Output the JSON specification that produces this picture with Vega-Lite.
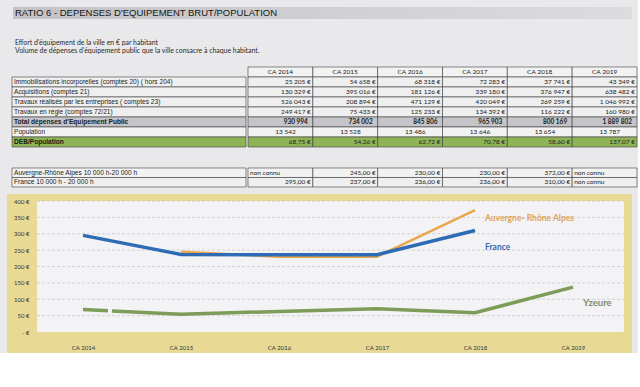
{
  "$schema": "https://vega.github.io/schema/vega-lite/v6.json",
  "background": "#e9e9eb",
  "padding": {"left": 7, "top": 7, "right": 0, "bottom": 0},
  "spacing": 0,
  "config": {"font": "Lato", "view": {"stroke": null}, "axis": {"labelOverlap": false, "labelSeparation": 0, "labelBound": false}},
  "datasets": {
    "title": [{"t": "RATIO 6 - DEPENSES D'EQUIPEMENT BRUT/POPULATION"}],
    "sub": [
      {"t": "Effort d'équipement de la ville en € par habitant"},
      {"t": "Volume de dépenses d'équipement public que la ville consacre à chaque habitant."}
    ],
    "t1rows": [
      {"r": "immo", "label": "Immobilisations incorporelles (comptes 20) ( hors 204)"},
      {"r": "acq", "label": "Acquisitions (comptes 21)"},
      {"r": "trav", "label": "Travaux réalisés par les entreprises ( comptes 23)"},
      {"r": "regie", "label": "Travaux en régie (comptes 72/21)"},
      {"r": "total", "label": "Total dépenses d'Equipement Public"},
      {"r": "pop", "label": "Population"},
      {"r": "deb", "label": "DEB/Population"}
    ],
    "t1cells": [
      {"r": "hdr", "c": "CA 2014", "v": "CA 2014"},
      {"r": "hdr", "c": "CA 2015", "v": "CA 2015"},
      {"r": "hdr", "c": "CA 2016", "v": "CA 2016"},
      {"r": "hdr", "c": "CA 2017", "v": "CA 2017"},
      {"r": "hdr", "c": "CA 2018", "v": "CA 2018"},
      {"r": "hdr", "c": "CA 2019", "v": "CA 2019"},
      {"r": "immo", "c": "CA 2014", "v": "25 205 €"},
      {"r": "immo", "c": "CA 2015", "v": "54 658 €"},
      {"r": "immo", "c": "CA 2016", "v": "68 318 €"},
      {"r": "immo", "c": "CA 2017", "v": "72 283 €"},
      {"r": "immo", "c": "CA 2018", "v": "37 741 €"},
      {"r": "immo", "c": "CA 2019", "v": "43 349 €"},
      {"r": "acq", "c": "CA 2014", "v": "130 329 €"},
      {"r": "acq", "c": "CA 2015", "v": "395 016 €"},
      {"r": "acq", "c": "CA 2016", "v": "181 126 €"},
      {"r": "acq", "c": "CA 2017", "v": "339 180 €"},
      {"r": "acq", "c": "CA 2018", "v": "376 947 €"},
      {"r": "acq", "c": "CA 2019", "v": "638 482 €"},
      {"r": "trav", "c": "CA 2014", "v": "526 043 €"},
      {"r": "trav", "c": "CA 2015", "v": "208 894 €"},
      {"r": "trav", "c": "CA 2016", "v": "471 129 €"},
      {"r": "trav", "c": "CA 2017", "v": "420 049 €"},
      {"r": "trav", "c": "CA 2018", "v": "269 259 €"},
      {"r": "trav", "c": "CA 2019", "v": "1 046 992 €"},
      {"r": "regie", "c": "CA 2014", "v": "249 417 €"},
      {"r": "regie", "c": "CA 2015", "v": "75 433 €"},
      {"r": "regie", "c": "CA 2016", "v": "125 233 €"},
      {"r": "regie", "c": "CA 2017", "v": "134 392 €"},
      {"r": "regie", "c": "CA 2018", "v": "116 222 €"},
      {"r": "regie", "c": "CA 2019", "v": "160 980 €"},
      {"r": "total", "c": "CA 2014", "v": "930 994"},
      {"r": "total", "c": "CA 2015", "v": "734 002"},
      {"r": "total", "c": "CA 2016", "v": "845 806"},
      {"r": "total", "c": "CA 2017", "v": "965 903"},
      {"r": "total", "c": "CA 2018", "v": "800 169"},
      {"r": "total", "c": "CA 2019", "v": "1 889 802"},
      {"r": "pop", "c": "CA 2014", "v": "13 542"},
      {"r": "pop", "c": "CA 2015", "v": "13 528"},
      {"r": "pop", "c": "CA 2016", "v": "13 486"},
      {"r": "pop", "c": "CA 2017", "v": "13 646"},
      {"r": "pop", "c": "CA 2018", "v": "13 654"},
      {"r": "pop", "c": "CA 2019", "v": "13 787"},
      {"r": "deb", "c": "CA 2014", "v": "68,75 €"},
      {"r": "deb", "c": "CA 2015", "v": "54,26 €"},
      {"r": "deb", "c": "CA 2016", "v": "62,72 €"},
      {"r": "deb", "c": "CA 2017", "v": "70,78 €"},
      {"r": "deb", "c": "CA 2018", "v": "58,60 €"},
      {"r": "deb", "c": "CA 2019", "v": "137,07 €"}
    ],
    "t2rows": [
      {"r": "aura", "label": "Auvergne-Rhône Alpes 10 000 h-20 000 h"},
      {"r": "fr", "label": "France 10 000 h - 20 000 h"}
    ],
    "t2cells": [
      {"r": "aura", "c": "CA 2014", "v": "non connu"},
      {"r": "aura", "c": "CA 2015", "v": "245,00 €"},
      {"r": "aura", "c": "CA 2016", "v": "230,00 €"},
      {"r": "aura", "c": "CA 2017", "v": "230,00 €"},
      {"r": "aura", "c": "CA 2018", "v": "372,00 €"},
      {"r": "aura", "c": "CA 2019", "v": "non connu"},
      {"r": "fr", "c": "CA 2014", "v": "295,00 €"},
      {"r": "fr", "c": "CA 2015", "v": "237,00 €"},
      {"r": "fr", "c": "CA 2016", "v": "236,00 €"},
      {"r": "fr", "c": "CA 2017", "v": "236,00 €"},
      {"r": "fr", "c": "CA 2018", "v": "310,00 €"},
      {"r": "fr", "c": "CA 2019", "v": "non connu"}
    ],
    "series": [
      {"s": "Yzeure", "year": 2014, "v": 68.75},
      {"s": "Yzeure", "year": 2015, "v": 54.26},
      {"s": "Yzeure", "year": 2016, "v": 62.72},
      {"s": "Yzeure", "year": 2017, "v": 70.78},
      {"s": "Yzeure", "year": 2018, "v": 58.6},
      {"s": "Yzeure", "year": 2019, "v": 137.07},
      {"s": "Auvergne- Rhône Alpes", "year": 2015, "v": 245},
      {"s": "Auvergne- Rhône Alpes", "year": 2016, "v": 230},
      {"s": "Auvergne- Rhône Alpes", "year": 2017, "v": 230},
      {"s": "Auvergne- Rhône Alpes", "year": 2018, "v": 372},
      {"s": "France", "year": 2014, "v": 295},
      {"s": "France", "year": 2015, "v": 237},
      {"s": "France", "year": 2016, "v": 236},
      {"s": "France", "year": 2017, "v": 236},
      {"s": "France", "year": 2018, "v": 310}
    ],
    "grid": [{"g": 50}, {"g": 100}, {"g": 150}, {"g": 200}, {"g": 250}, {"g": 300}, {"g": 350}, {"g": 400}]
  },
  "vconcat": [
    {
      "width": 625,
      "height": 28,
      "data": {"name": "title"},
      "encoding": {
        "x": {"field": "t", "type": "nominal", "axis": null, "scale": {"paddingInner": 0, "paddingOuter": 0.00485, "align": 1}},
        "y": {"datum": "b", "type": "nominal", "axis": null, "scale": {"type": "band", "paddingInner": 0, "paddingOuter": 0.667, "align": 0}}
      },
      "layer": [
        {
          "mark": {"type": "rect", "fill": {"gradient": "linear", "x1": 0, "x2": 1, "y1": 0, "y2": 0, "stops": [{"offset": 0, "color": "#c3c3c6"}, {"offset": 1, "color": "#dcdcde"}]}},
          "encoding": {}
        },
        {
          "mark": {"type": "text", "align": "left", "baseline": "middle", "dx": 2, "font": "Liberation Sans", "fontSize": 9.5, "color": "#151515"},
          "encoding": {
            "x": {"field": "t", "type": "nominal", "axis": null, "bandPosition": 0, "scale": {"paddingInner": 0, "paddingOuter": 0.00485, "align": 1}},
            "text": {"field": "t"}
          }
        }
      ]
    },
    {
      "width": 625,
      "height": 24,
      "data": {"name": "sub"},
      "mark": {"type": "text", "align": "left", "baseline": "middle", "dx": 8, "fontSize": 6.9, "color": "#2a2a2a"},
      "encoding": {
        "y": {"field": "t", "type": "nominal", "sort": null, "axis": null, "scale": {"type": "band", "paddingInner": 0, "paddingOuter": 0.5, "align": 0.5}},
        "x": {"datum": 0, "type": "quantitative", "axis": null, "scale": {"domain": [0, 1]}},
        "text": {"field": "t"}
      }
    },
    {
      "spacing": 0,
      "hconcat": [
        {
          "width": 239,
          "height": 98,
          "data": {"name": "t1rows"},
          "encoding": {
            "x": {"datum": "L", "type": "nominal", "axis": null, "scale": {"paddingInner": 0, "paddingOuter": 0.01068, "align": 1}},
            "y": {"field": "r", "type": "nominal", "axis": null, "scale": {"domain": ["hdr", "immo", "acq", "trav", "regie", "total", "pop", "deb"], "paddingInner": 0, "paddingOuter": 0.9, "align": 0.444}}
          },
          "layer": [
            {
              "mark": {"type": "rect", "stroke": "#3a3a3a", "strokeWidth": 0.6},
              "encoding": {
                "color": {"field": "r", "type": "nominal", "legend": null, "scale": {"domain": ["hdr", "immo", "acq", "trav", "regie", "total", "pop", "deb"], "range": ["#f2f2f2", "#efeff0", "#efeff0", "#efeff0", "#efeff0", "#c5c5c9", "#f2f2f2", "#8fb457"]}}
              }
            },
            {
              "transform": [{"filter": "datum.r != 'total' && datum.r != 'deb'"}],
              "mark": {"type": "text", "align": "left", "baseline": "middle", "dx": 2, "font": "Liberation Sans", "fontSize": 6.6, "color": "#222222"},
              "encoding": {
                "x": {"datum": "L", "type": "nominal", "axis": null, "bandPosition": 0, "scale": {"paddingInner": 0, "paddingOuter": 0.01068, "align": 1}},
                "text": {"field": "label"}
              }
            },
            {
              "transform": [{"filter": "datum.r == 'total' || datum.r == 'deb'"}],
              "mark": {"type": "text", "align": "left", "baseline": "middle", "dx": 2, "font": "Liberation Sans", "fontSize": 6.6, "fontWeight": "bold", "color": "#1a1a1a"},
              "encoding": {
                "x": {"datum": "L", "type": "nominal", "axis": null, "bandPosition": 0, "scale": {"paddingInner": 0, "paddingOuter": 0.01068, "align": 1}},
                "text": {"field": "label"}
              }
            }
          ]
        },
        {
          "width": 389,
          "height": 98,
          "data": {"name": "t1cells"},
          "encoding": {
            "x": {"field": "c", "type": "nominal", "axis": null, "scale": {"domain": ["CA 2014", "CA 2015", "CA 2016", "CA 2017", "CA 2018", "CA 2019"], "paddingInner": 0, "paddingOuter": 0}},
            "y": {"field": "r", "type": "nominal", "axis": null, "scale": {"domain": ["hdr", "immo", "acq", "trav", "regie", "total", "pop", "deb"], "paddingInner": 0, "paddingOuter": 0.9, "align": 0.444}}
          },
          "layer": [
            {
              "mark": {"type": "rect", "stroke": "#3a3a3a", "strokeWidth": 0.6},
              "encoding": {
                "color": {"field": "r", "type": "nominal", "legend": null, "scale": {"domain": ["hdr", "immo", "acq", "trav", "regie", "total", "pop", "deb"], "range": ["#f2f2f2", "#efeff0", "#efeff0", "#efeff0", "#efeff0", "#c5c5c9", "#f2f2f2", "#8fb457"]}}
              }
            },
            {
              "transform": [{"filter": "datum.r == 'hdr'"}],
              "mark": {"type": "text", "baseline": "middle", "fontSize": 6.5, "color": "#222222"},
              "encoding": {"text": {"field": "v"}}
            },
            {
              "transform": [{"filter": "indexof(['immo','acq','trav','regie','deb'], datum.r) >= 0"}],
              "mark": {"type": "text", "align": "right", "baseline": "middle", "dx": -2, "fontSize": 6.5, "color": "#222222"},
              "encoding": {
                "x": {"field": "c", "type": "nominal", "axis": null, "bandPosition": 1, "scale": {"domain": ["CA 2014", "CA 2015", "CA 2016", "CA 2017", "CA 2018", "CA 2019"], "paddingInner": 0, "paddingOuter": 0}},
                "text": {"field": "v"}
              }
            },
            {
              "transform": [{"filter": "datum.r == 'total'"}],
              "mark": {"type": "text", "align": "right", "baseline": "middle", "dx": -5, "fontSize": 6.5, "fontWeight": "bold", "color": "#1a1a1a"},
              "encoding": {
                "x": {"field": "c", "type": "nominal", "axis": null, "bandPosition": 1, "scale": {"domain": ["CA 2014", "CA 2015", "CA 2016", "CA 2017", "CA 2018", "CA 2019"], "paddingInner": 0, "paddingOuter": 0}},
                "text": {"field": "v"}
              }
            },
            {
              "transform": [{"filter": "datum.r == 'pop'"}],
              "mark": {"type": "text", "align": "right", "baseline": "middle", "dx": -17, "fontSize": 6.5, "color": "#222222"},
              "encoding": {
                "x": {"field": "c", "type": "nominal", "axis": null, "bandPosition": 1, "scale": {"domain": ["CA 2014", "CA 2015", "CA 2016", "CA 2017", "CA 2018", "CA 2019"], "paddingInner": 0, "paddingOuter": 0}},
                "text": {"field": "v"}
              }
            }
          ]
        }
      ]
    },
    {
      "spacing": 0,
      "hconcat": [
        {
          "width": 239,
          "height": 37,
          "data": {"name": "t2rows"},
          "encoding": {
            "x": {"datum": "L", "type": "nominal", "axis": null, "scale": {"paddingInner": 0, "paddingOuter": 0.01068, "align": 1}},
            "y": {"field": "r", "type": "nominal", "axis": null, "scale": {"domain": ["aura", "fr"], "paddingInner": 0, "paddingOuter": 0.947, "align": 0.611}}
          },
          "layer": [
            {
              "mark": {"type": "rect", "stroke": "#3a3a3a", "strokeWidth": 0.6},
              "encoding": {
                "color": {"field": "r", "type": "nominal", "legend": null, "scale": {"domain": ["aura", "fr"], "range": ["#eeaa45", "#a9bdd3"]}}
              }
            },
            {
              "mark": {"type": "text", "align": "left", "baseline": "middle", "dx": 2, "font": "Liberation Sans", "fontSize": 6.6, "color": "#222222"},
              "encoding": {
                "x": {"datum": "L", "type": "nominal", "axis": null, "bandPosition": 0, "scale": {"paddingInner": 0, "paddingOuter": 0.01068, "align": 1}},
                "text": {"field": "label"}
              }
            }
          ]
        },
        {
          "width": 389,
          "height": 37,
          "data": {"name": "t2cells"},
          "encoding": {
            "x": {"field": "c", "type": "nominal", "axis": null, "scale": {"domain": ["CA 2014", "CA 2015", "CA 2016", "CA 2017", "CA 2018", "CA 2019"], "paddingInner": 0, "paddingOuter": 0}},
            "y": {"field": "r", "type": "nominal", "axis": null, "scale": {"domain": ["aura", "fr"], "paddingInner": 0, "paddingOuter": 0.947, "align": 0.611}}
          },
          "layer": [
            {
              "mark": {"type": "rect", "stroke": "#3a3a3a", "strokeWidth": 0.6},
              "encoding": {
                "color": {"field": "r", "type": "nominal", "legend": null, "scale": {"domain": ["aura", "fr"], "range": ["#eeaa45", "#a9bdd3"]}}
              }
            },
            {
              "transform": [{"filter": "datum.v != 'non connu'"}],
              "mark": {"type": "text", "align": "right", "baseline": "middle", "dx": -2, "fontSize": 6.5, "color": "#222222"},
              "encoding": {
                "x": {"field": "c", "type": "nominal", "axis": null, "bandPosition": 1, "scale": {"domain": ["CA 2014", "CA 2015", "CA 2016", "CA 2017", "CA 2018", "CA 2019"], "paddingInner": 0, "paddingOuter": 0}},
                "text": {"field": "v"}
              }
            },
            {
              "transform": [{"filter": "datum.v == 'non connu'"}],
              "mark": {"type": "text", "align": "left", "baseline": "middle", "dx": 2, "fontSize": 6.5, "color": "#222222"},
              "encoding": {
                "x": {"field": "c", "type": "nominal", "axis": null, "bandPosition": 0, "scale": {"domain": ["CA 2014", "CA 2015", "CA 2016", "CA 2017", "CA 2018", "CA 2019"], "paddingInner": 0, "paddingOuter": 0}},
                "text": {"field": "v"}
              }
            }
          ]
        }
      ]
    },
    {
      "width": 625,
      "height": 159,
      "view": {"fill": "#e8da95", "stroke": null},
      "layer": [
        {
          "data": {"values": [{}]},
          "mark": {"type": "rect", "fill": "#f3f3f5"},
          "encoding": {
            "x": {"datum": 2013.531, "type": "quantitative", "scale": {"domain": [2013.2245, 2019.602], "nice": false, "zero": false}},
            "x2": {"datum": 2019.52},
            "y": {"datum": 0, "type": "quantitative", "scale": {"domain": [-64.1, 421.4], "nice": false, "zero": false}},
            "y2": {"datum": 400}
          }
        },
        {
          "data": {"name": "grid"},
          "mark": {"type": "rule", "stroke": "#bdbdc2", "strokeWidth": 0.6, "strokeDash": [3, 2]},
          "encoding": {
            "x": {"datum": 2013.531, "type": "quantitative", "scale": {"domain": [2013.2245, 2019.602], "nice": false, "zero": false}},
            "x2": {"datum": 2019.52},
            "y": {"field": "g", "type": "quantitative", "scale": {"domain": [-64.1, 421.4], "nice": false, "zero": false}}
          }
        },
        {
          "data": {"name": "series"},
          "transform": [{"filter": "datum.s == 'Yzeure'"}],
          "mark": {"type": "line", "stroke": "#7d9c58", "strokeWidth": 3.5, "strokeDash": [25, 4, 3000, 0]},
          "encoding": {
            "x": {"field": "year", "type": "quantitative", "scale": {"domain": [2013.2245, 2019.602], "nice": false, "zero": false},
              "axis": {"values": [2014, 2015, 2016, 2017, 2018, 2019], "labelExpr": "'CA ' + datum.value", "orient": "bottom", "offset": -9, "domain": false, "ticks": false, "tickSize": 0, "grid": false, "labelPadding": 0, "labelOverlap": false, "labelFontSize": 6, "labelColor": "#333333", "labelBaseline": "top", "title": null}},
            "y": {"field": "v", "type": "quantitative", "scale": {"domain": [-64.1, 421.4], "nice": false, "zero": false},
              "axis": {"values": [0, 50, 100, 150, 200, 250, 300, 350, 400], "tickCount": 9, "labelExpr": "datum.value == 0 ? '- €' : datum.value + ' €'", "orient": "left", "offset": -22, "domain": false, "ticks": false, "tickSize": 0, "grid": false, "labelPadding": 0, "labelOverlap": false, "labelFontSize": 6, "labelColor": "#333333", "title": null}}
          }
        },
        {
          "data": {"name": "series"},
          "transform": [{"filter": "datum.s == 'Auvergne- Rhône Alpes'"}],
          "mark": {"type": "line", "stroke": "#eaa64f", "strokeWidth": 2.5},
          "encoding": {
            "x": {"field": "year", "type": "quantitative", "scale": {"domain": [2013.2245, 2019.602], "nice": false, "zero": false}},
            "y": {"field": "v", "type": "quantitative", "scale": {"domain": [-64.1, 421.4], "nice": false, "zero": false}}
          }
        },
        {
          "data": {"name": "series"},
          "transform": [{"filter": "datum.s == 'France'"}],
          "mark": {"type": "line", "stroke": "#2d6cb4", "strokeWidth": 3.5},
          "encoding": {
            "x": {"field": "year", "type": "quantitative", "scale": {"domain": [2013.2245, 2019.602], "nice": false, "zero": false}},
            "y": {"field": "v", "type": "quantitative", "scale": {"domain": [-64.1, 421.4], "nice": false, "zero": false}}
          }
        },
        {
          "data": {"name": "series"},
          "transform": [{"filter": "datum.s == 'Auvergne- Rhône Alpes' && datum.year == 2018"}],
          "mark": {"type": "text", "align": "left", "baseline": "middle", "dx": 10, "dy": 8, "fontSize": 8.5, "fontWeight": "bold", "color": "#dfa35a"},
          "encoding": {
            "x": {"field": "year", "type": "quantitative", "scale": {"domain": [2013.2245, 2019.602], "nice": false, "zero": false}},
            "y": {"field": "v", "type": "quantitative", "scale": {"domain": [-64.1, 421.4], "nice": false, "zero": false}},
            "text": {"field": "s"}
          }
        },
        {
          "data": {"name": "series"},
          "transform": [{"filter": "datum.s == 'France' && datum.year == 2018"}],
          "mark": {"type": "text", "align": "left", "baseline": "middle", "dx": 10, "dy": 17, "fontSize": 8.5, "fontWeight": "bold", "color": "#3a68ad"},
          "encoding": {
            "x": {"field": "year", "type": "quantitative", "scale": {"domain": [2013.2245, 2019.602], "nice": false, "zero": false}},
            "y": {"field": "v", "type": "quantitative", "scale": {"domain": [-64.1, 421.4], "nice": false, "zero": false}},
            "text": {"field": "s"}
          }
        },
        {
          "data": {"name": "series"},
          "transform": [{"filter": "datum.s == 'Yzeure' && datum.year == 2019"}],
          "mark": {"type": "text", "align": "left", "baseline": "middle", "dx": 10, "dy": 16, "fontSize": 9.5, "fontWeight": "bold", "color": "#7e8c6c"},
          "encoding": {
            "x": {"field": "year", "type": "quantitative", "scale": {"domain": [2013.2245, 2019.602], "nice": false, "zero": false}},
            "y": {"field": "v", "type": "quantitative", "scale": {"domain": [-64.1, 421.4], "nice": false, "zero": false}},
            "text": {"field": "s"}
          }
        }
      ]
    }
  ]
}
